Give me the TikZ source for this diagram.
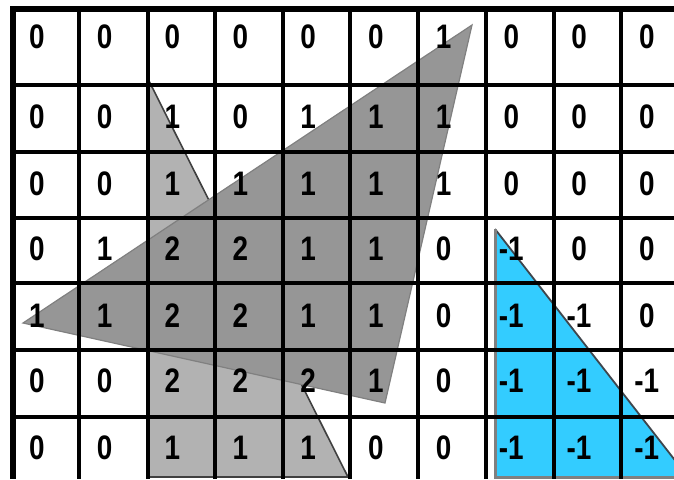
\documentclass[tikz,border=0pt]{standalone}
\usepackage{fontspec}
\setmainfont{Liberation Sans}
\usepackage{graphicx}
\usepackage{xcolor}
\definecolor{grisOscuro}{RGB}{150,150,150}
\definecolor{grisClaro}{RGB}{178,178,178}
\definecolor{celeste}{RGB}{51,204,255}
\newcommand{\Valor}[1]{\scalebox{0.82}[1]{#1}}

\begin{document}
\begin{tikzpicture}[x=0.5pt,y=-0.5pt,
    linea/.style={line width=1.8pt},
    borde/.style={line width=3pt},
    numero/.style={font=\fontsize{17}{17}\selectfont\bfseries,inner sep=0pt}]
    \useasboundingbox (0,0) rectangle (674,479);
    \clip (0,0) rectangle (674,479);

    % triangulos
    \filldraw[fill=grisClaro,draw=black!75,line width=0.8pt]
      (148,79) -- (348,477) -- (148,477) -- cycle;
    \filldraw[fill=grisOscuro,draw=black!50,line width=0.6pt]
      (472,25) -- (23,323) -- (385,403) -- cycle;
    \fill[celeste] (495,229) -- (688,477) -- (495,477) -- cycle;
    \draw[black!80!cyan,line width=0.9pt] (495,229) -- (688,477);
    \draw[gray,line width=1.5pt] (495,229) -- (495,477) -- (688,477);

    % rejilla
    \foreach \x in {79,148,215,283,350,418,486,554,621}
      \draw[linea] (\x,9) -- (\x,479);
    \foreach \y in {85,152,218,283,350,417}
      \draw[linea] (13,\y) -- (674,\y);
    \draw[borde] (10,9) -- (674,9);
    \draw[borde] (13,6) -- (13,479);

    % valores
    \foreach \fila/\y/\valores in {
        1/37/{0,0,0,0,0,0,1,0,0,0},
        2/117/{0,0,1,0,1,1,1,0,0,0},
        3/184/{0,0,1,1,1,1,1,0,0,0},
        4/249/{0,1,2,2,1,1,0,-1,0,0},
        5/316/{1,1,2,2,1,1,0,-1,-1,0},
        6/381/{0,0,2,2,2,1,0,-1,-1,-1},
        7/448/{0,0,1,1,1,0,0,-1,-1,-1}} {
      \foreach \v [count=\c] in \valores {
        \node[numero] (n\fila-\c) at ({37+(\c-1)*67.75},\y) {\Valor{\v}};
      }
    }
\end{tikzpicture}
\end{document}
